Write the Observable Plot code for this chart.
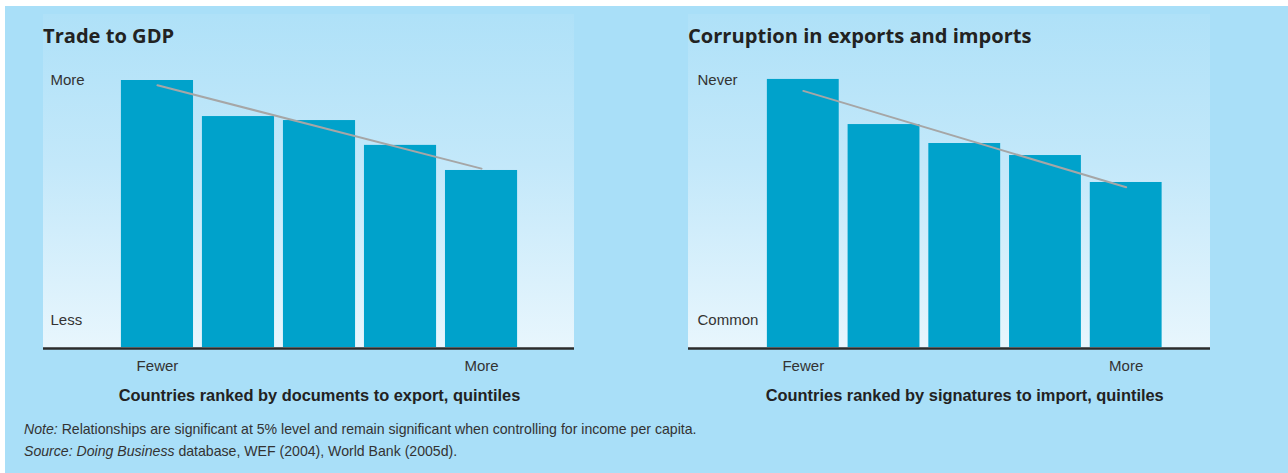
<!DOCTYPE html>
<html>
<head>
<meta charset="utf-8">
<script src="https://cdn.jsdelivr.net/npm/d3@7"></script>
<script src="https://cdn.jsdelivr.net/npm/@observablehq/plot@0.6"></script>
<style>
  html, body { margin: 0; padding: 0; background: #ffffff; }
  #page { position: relative; width: 1288px; height: 473px; overflow: hidden; background: #ffffff; }
  #bg { position: absolute; left: 5px; top: 6px; right: 0; bottom: 0; background: #a9dff8; }
  .panel { position: absolute; top: 14px; height: 334px;
           background: linear-gradient(to bottom, #afe1f8 0%, #c3e8fa 45%, #e8f6fd 100%); }
  .title { position: absolute; top: 22px; font-family: "Open Sans", "Lato", sans-serif; font-weight: 700;
           font-size: 20.1px; color: #222; line-height: 28px; white-space: nowrap; }
  .chart { position: absolute; top: 14px; }
  .chart svg { overflow: visible; background: transparent; }
  .note { position: absolute; left: 24px; font-family: "Liberation Sans", Arial, sans-serif;
          font-size: 15px; color: #333; line-height: 20px; white-space: nowrap;
          transform-origin: 0 0; transform: scaleX(0.94); }
</style>
</head>
<body>
<div id="page">
  <div id="bg"></div>
  <div class="panel" style="left:43px;width:531px"></div>
  <div class="panel" style="left:688px;width:522px"></div>
  <div class="title" style="left:43px">Trade to GDP</div>
  <div class="title" style="left:688px">Corruption in exports and imports</div>
  <div class="chart" id="c1" style="left:43px"></div>
  <div class="chart" id="c2" style="left:688px"></div>
  <div class="note" style="top:419px"><i>Note:</i> Relationships are significant at 5% level and remain significant when controlling for income per capita.</div>
  <div class="note" style="top:441px"><i>Source: Doing Business</i> database, WEF (2004), World Bank (2005d).</div>
</div>
<script>
// Quintile categories (x)
const quintiles = ["Q1", "Q2", "Q3", "Q4", "Q5"];
const xTickLabels = ["Fewer", "", "", "", "More"];

// Left panel: Trade to GDP (relative index, bottom = 0, top = 100)
const tradeValues = [100, 86.5, 85.0, 75.7, 66.3];
const tradeTrend = [98.2, 67.0];          // fitted line at first and last quintile
const tradeYLabels = ["More", "Less"];
const tradeYLabelPos = [100, 10.1];
const tradeXTitle = "Countries ranked by documents to export, quintiles";

// Right panel: Corruption in exports and imports
const corrValues = [100.4, 83.5, 76.4, 71.9, 61.8];
const corrTrend = [96.1, 60.0];
const corrYLabels = ["Never", "Common"];
const corrYLabelPos = [100, 10.1];
const corrXTitle = "Countries ranked by signatures to import, quintiles";

const BAR = "#00a2cb";
const TREND = "#a6a6a6";
const FONT = '"Liberation Sans", Arial, sans-serif';

function panel({width, range, values, trend, yLabels, yLabelPos, xTitle, labelDx}) {
  const rows = quintiles.map((q, i) => ({q, v: values[i]}));
  const trendRows = [{q: quintiles[0], v: trend[0]}, {q: quintiles[4], v: trend[1]}];
  const yl = yLabels.map((t, i) => ({t, v: yLabelPos[i]}));
  return Plot.plot({
    width, height: 395,
    marginLeft: 0, marginRight: 0, marginTop: 66, marginBottom: 62,
    style: {background: "transparent", fontFamily: FONT, fontSize: "15px", color: "#333", overflow: "visible"},
    x: {domain: quintiles, range, padding: 0.11, round: false, axis: null},
    y: {domain: [0, 100], axis: null},
    marks: [
      Plot.barY(rows, {x: "q", y: "v", fill: BAR}),
      Plot.line(trendRows, {x: "q", y: "v", stroke: TREND, strokeWidth: 2}),
      Plot.ruleY([0], {stroke: "#2b2b2b", strokeWidth: 2.3, dy: 1}),
      Plot.text(yl, {y: "v", text: "t", frameAnchor: "left", textAnchor: "start", dx: labelDx, fill: "#333", fontSize: 15}),
      Plot.axisX({tickSize: 0, tickPadding: 13, tickFormat: (d, i) => xTickLabels[i], fontSize: 15, fill: "#333", label: null}),
      Plot.text([xTitle], {x: () => quintiles[2], text: d => d, frameAnchor: "bottom", dy: 53,
        fontWeight: "bold", fontSize: 16.4, fill: "#222"})
    ]
  });
}

document.getElementById("c1").append(panel({
  width: 531, range: [69, 483], values: tradeValues, trend: tradeTrend,
  yLabels: tradeYLabels, yLabelPos: tradeYLabelPos, xTitle: tradeXTitle, labelDx: 7
}));
document.getElementById("c2").append(panel({
  width: 522, range: [70, 482.5], values: corrValues, trend: corrTrend,
  yLabels: corrYLabels, yLabelPos: corrYLabelPos, xTitle: corrXTitle, labelDx: 9
}));
</script>
</body>
</html>
